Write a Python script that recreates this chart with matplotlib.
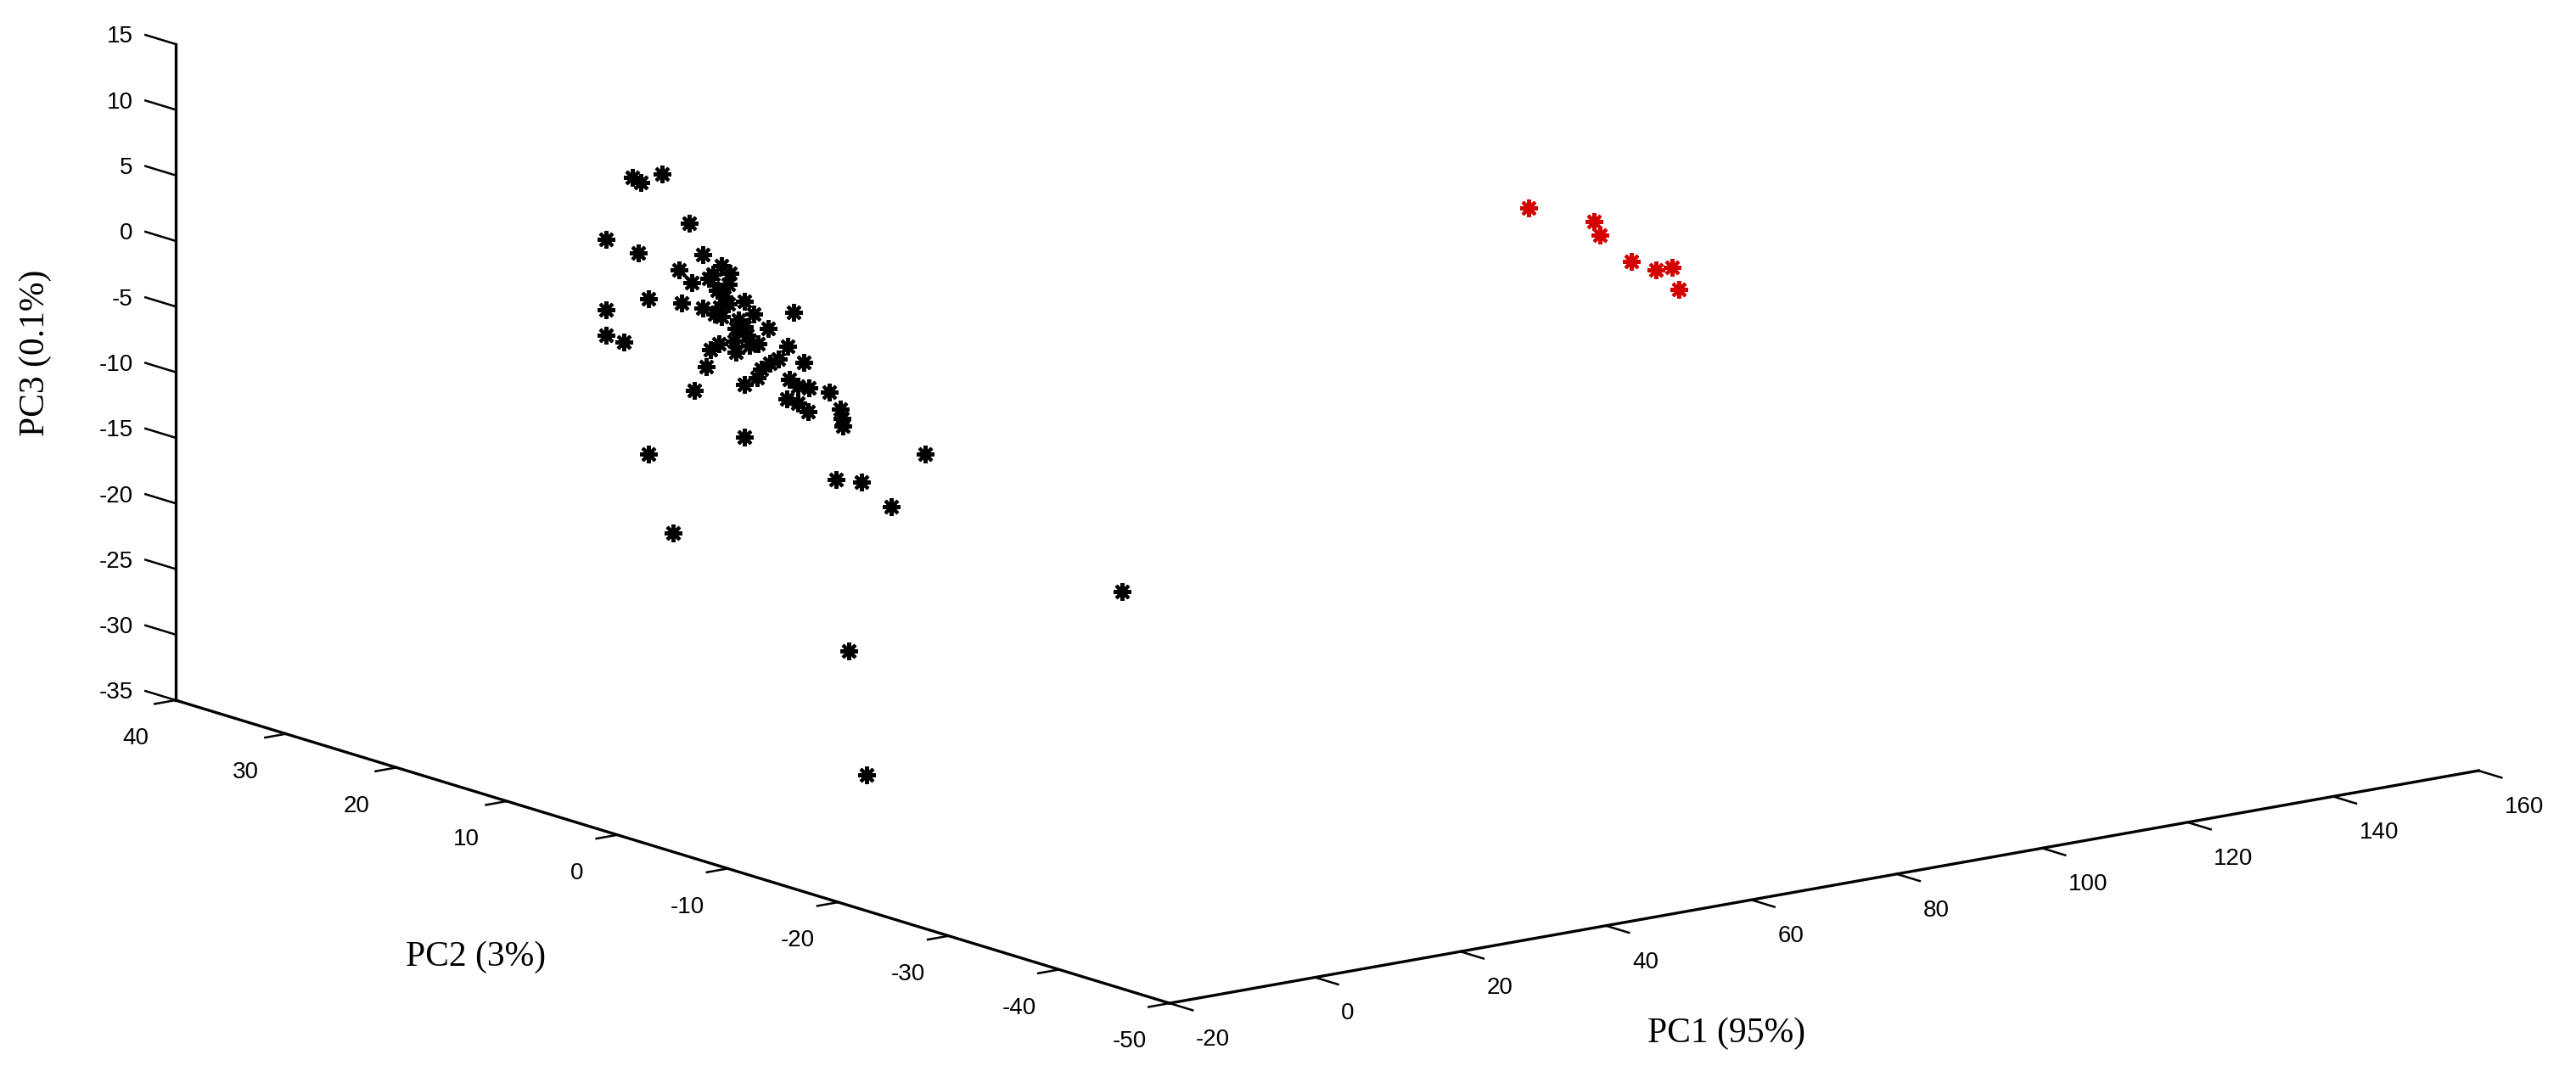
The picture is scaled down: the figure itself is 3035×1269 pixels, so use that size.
import matplotlib
matplotlib.use('Agg')
import matplotlib.pyplot as plt

plt.rcParams['font.family'] = 'Liberation Sans'
plt.rcParams['axes.unicode_minus'] = False
plt.rcParams['axes3d.automargin'] = False

# PCA scores, first group (black)
pc1_black = [-12, -15, -13, -11, -14, -10, -13, -16, -12, -11,
             -14, -13, -11, -15, -12, -14, -10, -13, -15, -11,
             -16, -12, -13, -14, -10, -15, -12, -13, -11, -14,
             -16, -12, -13, -11, -15, -12, -10, -14, -13, -11,
             -15, -12, -14, -13, -11, -15, -12, -10, -13, -14,
             -16, -11, -13, -12, -15, -10, -14, -13, -11, -16,
             -12, -9, -15, -13, -11, -17, -8, -16, -12]
pc2_black = [-2.48, -2.29, -2.12, -2.72, -5.47, -3.61, -5.45, -6.40, -0.56, -1.82,
             -5.34, -5.45, -5.54, -6.13, -5.43, -7.52, -5.78, -9.04, -12.66, -4.64,
             -9.34, -7.48, -3.79, -5.22, -4.12, -4.72, -10.17, -9.17, -8.62, -9.06,
             -9.98, -6.20, -12.24, -9.64, -13.05, -12.09, -12.58, -3.03, -10.71, -10.41,
             -13.95, -14.91, -16.36, -15.82, -5.54, -6.38, -5.69, -2.20, -7.12, -4.32,
             1.26, 3.81, 0.58, -1.20, 4.32, 4.67, 4.98, 1.82, 6.96, 2.08,
             2.48, -20.62, -16.48, -17.51, -18.84, -3.08, -37.80, -18.31, -17.29]
pc3_black = [9.07, 8.13, 6.92, 7.53, 9.18, 7.76, 7.67, 7.77, 4.91, 4.71,
             6.01, 6.16, 6.20, 5.56, 4.22, 5.06, 5.19, 5.24, 7.55, 2.95,
             4.32, 3.56, 2.28, 3.18, 1.86, 1.42, 4.03, 2.59, 2.58, 2.22,
             2.01, 0.11, 3.48, 1.32, 2.04, 1.40, 1.01, -0.94, 0.28, -0.31,
             0.33, 0.50, 0.33, -0.45, -4.14, 7.13, 4.93, 4.27, 4.21, 7.91,
             14.37, 12.86, 14.53, 11.11, 8.80, 7.15, 3.15, 4.72, 0.41, 1.61,
             -7.40, -1.77, -4.19, -4.33, -6.02, -11.52, -7.94, -16.68, -26.78]

# PCA scores, second group (red)
pc1_red = [136, 142, 139, 143, 140, 138, 144]
pc2_red = [20.23, 18.24, 15.72, 15.53, 11.31, 8.53, 11.87]
pc3_red = [-7.77, -8.86, -8.98, -11.33, -10.58, -9.50, -12.60]

x_ticks = [-20, 0, 20, 40, 60, 80, 100, 120, 140, 160]
y_ticks = [-50, -40, -30, -20, -10, 0, 10, 20, 30, 40]
z_ticks = [-35, -30, -25, -20, -15, -10, -5, 0, 5, 10, 15]

fig = plt.figure(figsize=(30.35, 12.69), dpi=100)
# square 3D panel, larger than the figure, so the wide box fills the canvas
ax = fig.add_axes([5 / 3035, -769.5 / 1269, 1.0, 3035 / 1269], projection='3d')
ax.set_proj_type('ortho')
ax.view_init(elev=13.46, azim=-127.36)
ax.set_box_aspect((1.1826, 1.1763, 0.4845), zoom=0.9115)

star = (8, 2, 0)
ax.plot(pc1_black, pc2_black, pc3_black, linestyle='none', marker=star,
        markersize=15, markeredgewidth=2.9, color='black')
ax.plot(pc1_red, pc2_red, pc3_red, linestyle='none', marker=star,
        markersize=15, markeredgewidth=2.9, color='#d40000')

ax.set_xlim(-20, 160)
ax.set_ylim(-50, 40)
ax.set_zlim(-35, 15)
ax.set_xticks(x_ticks)
ax.set_yticks(y_ticks)
ax.set_zticks(z_ticks)

ax.grid(False)
ax.set_facecolor('white')
for axis in (ax.xaxis, ax.yaxis, ax.zaxis):
    axis.pane.set_facecolor((1, 1, 1, 0))
    axis.pane.set_edgecolor((1, 1, 1, 0))
    axis.line.set_linewidth(2.4)
    axis.line.set_color('black')
    axis._axinfo['tick']['linewidth'] = {True: 1.8, False: 1.0}

# matlab style ticks: outside the box only
ax.xaxis._axinfo['tick']['outward_factor'] = 0.0
ax.xaxis._axinfo['tick']['inward_factor'] = 0.29
ax.yaxis._axinfo['tick']['outward_factor'] = 0.0
ax.yaxis._axinfo['tick']['inward_factor'] = 0.2
ax.zaxis._get_tickdir = lambda *a, **k: 1
ax.zaxis._axinfo['tick']['outward_factor'] = 0.38
ax.zaxis._axinfo['tick']['inward_factor'] = 0.0

ax.tick_params(axis='x', pad=22, labelsize=20)
ax.tick_params(axis='y', pad=27, labelsize=20)
ax.tick_params(axis='z', pad=13, labelsize=20)
plt.setp(ax.get_xticklabels(), ha='left')
plt.setp(ax.get_zticklabels(), ha='right', va='baseline')

fig.text(0.0138, 0.6722, 'PC3 (0.1%)', rotation=90, ha='center', va='center',
         family='Liberation Serif', fontsize=30)
fig.text(0.1848, 0.1111, 'PC2 (3%)', ha='center', va='center',
         family='Liberation Serif', fontsize=30)
fig.text(0.6702, 0.0402, 'PC1 (95%)', ha='center', va='center',
         family='Liberation Serif', fontsize=30)

fig.savefig('out.png', dpi=100, facecolor='white')
